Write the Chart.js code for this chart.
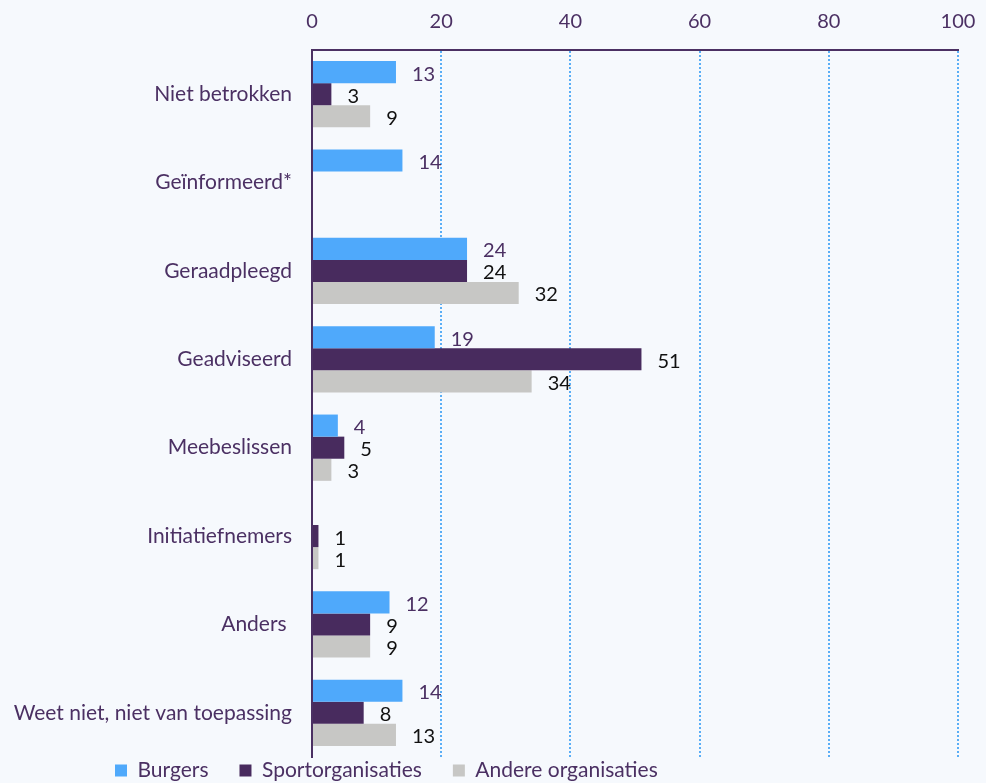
<!DOCTYPE html>
<html>
<head>
<meta charset="utf-8">
<script src="https://cdn.jsdelivr.net/npm/chart.js@4"></script>
<style>
  html, body { margin: 0; padding: 0; background: #f6f9fd; }
  #wrap { width: 986px; height: 783px; }
</style>
</head>
<body>
<div id="wrap"><canvas id="myChart" width="986" height="783"></canvas></div>
<script>
const categories = [
  "Niet betrokken",
  "Geïnformeerd*",
  "Geraadpleegd",
  "Geadviseerd",
  "Meebeslissen",
  "Initiatiefnemers",
  "Anders ",
  "Weet niet, niet van toepassing"
];
const burgers = [13, 14, 24, 19, 4, null, 12, 14];
const sportorganisaties = [3, null, 24, 51, 5, 1, 9, 8];
const andereOrganisaties = [9, null, 32, 34, 3, 1, 9, 13];
const xTicks = [0, 20, 40, 60, 80, 100];

const purpleText = "#4b3063";
const labelColors = [purpleText, "#111111", "#111111"];

// value labels to the right of each bar
const valueLabels = {
  id: "valueLabels",
  afterDatasetsDraw(chart) {
    const ctx = chart.ctx;
    ctx.save();
    ctx.font = "20px Lato";
    ctx.textAlign = "left";
    ctx.textBaseline = "middle";
    chart.data.datasets.forEach((ds, i) => {
      const meta = chart.getDatasetMeta(i);
      meta.data.forEach((bar, j) => {
        const v = ds.data[j];
        if (v === null) return;
        ctx.fillStyle = labelColors[i];
        ctx.fillText(v, bar.x + 16, bar.y + 2);
      });
    });
    ctx.restore();
  }
};

// move legend to the bottom-left like the original
const legendPlace = {
  id: "legendPlace",
  afterLayout(chart) {
    const l = chart.legend;
    const p = l.options.labels.padding;
    l.top = chart.chartArea.bottom + 3 - p;
    l.bottom = chart.height;
    l.left = 115 - p;
  }
};

Chart.defaults.font.family = "Lato";

let covidChart = new Chart(document.getElementById("myChart"), {
  type: "bar",
  data: {
    labels: categories,
    datasets: [
      { label: "Burgers", data: burgers, backgroundColor: "#4fa9fb", borderWidth: 0 },
      { label: "Sportorganisaties", data: sportorganisaties, backgroundColor: "#482b5e", borderWidth: 0 },
      { label: "Andere organisaties", data: andereOrganisaties, backgroundColor: "#c7c7c5", borderWidth: 0 }
    ]
  },
  options: {
    indexAxis: "y",
    responsive: false,
    animation: false,
    categoryPercentage: 0.75,
    barPercentage: 1.0,
    layout: { padding: { left: 0, right: 28, top: 0, bottom: 0 } },
    scales: {
      x: {
        position: "top",
        min: 0,
        max: 100,
        afterBuildTicks(scale) {
          scale.ticks = xTicks.map(v => ({ value: v }));
        },
        afterFit(scale) {
          scale.height = 50;
          scale.paddingLeft = 0;
          scale.paddingRight = 0;
        },
        ticks: { color: purpleText, font: { size: 20 }, padding: 16 },
        grid: {
          drawTicks: false,
          lineWidth: 2,
          color: ctx => ctx.index === 0 ? "rgba(0,0,0,0)" : "#5aaef6"
        },
        border: { display: true, color: "#4b3063", width: 2, dash: [2, 2] }
      },
      y: {
        afterFit(scale) {
          scale.width = 312;
          scale.paddingTop = 0;
          scale.paddingBottom = 0;
        },
        ticks: { color: purpleText, font: { size: 21 }, padding: 20 },
        grid: { display: false, drawTicks: false },
        border: { display: true, color: "#4b3063", width: 2 }
      }
    },
    plugins: {
      tooltip: { enabled: false },
      legend: {
        position: "bottom",
        align: "start",
        maxHeight: 26,
        labels: {
          color: purpleText,
          font: { size: 21 },
          boxWidth: 12,
          boxHeight: 12,
          padding: 31
        }
      }
    }
  },
  plugins: [valueLabels, legendPlace]
});
</script>
</body>
</html>
